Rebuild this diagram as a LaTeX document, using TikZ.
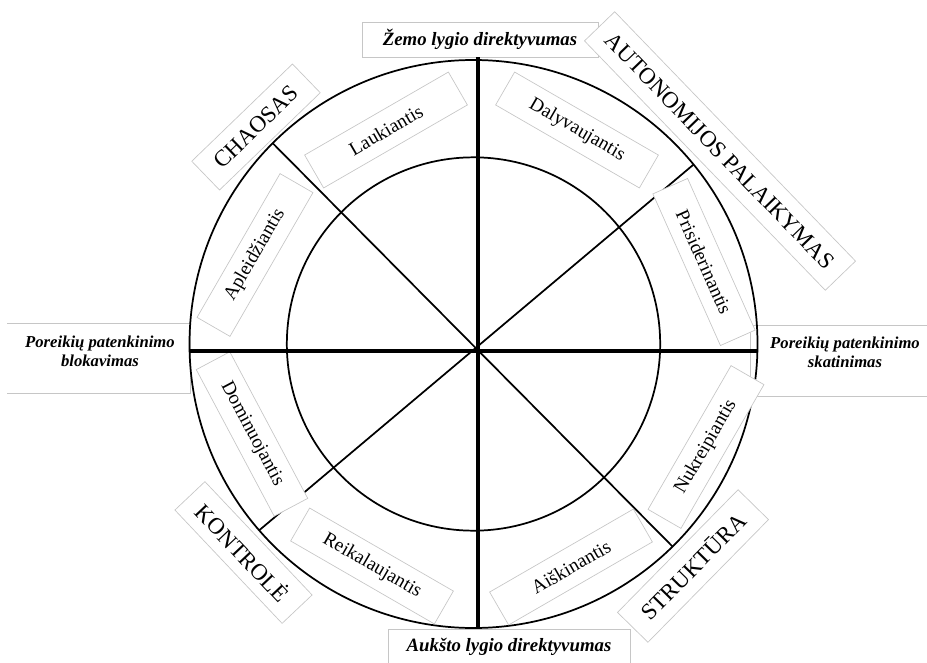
\documentclass[tikz,border=0pt]{standalone}
\usepackage{fontspec}
\setmainfont{Liberation Serif}
\begin{document}
\begin{tikzpicture}[x=0.75pt,y=-0.75pt,
  pole/.style={line width=3pt},
  spoke/.style={line width=1.3pt},
  ring/.style={line width=1.3pt},
  edge/.style={draw=gray!45, line width=0.5pt},
  axislabel/.style={edge, fill=white, inner sep=0pt, font=\fontsize{14.1}{17}\selectfont\bfseries\itshape},
  sidelabel/.style={font=\fontsize{12.5}{14.3}\selectfont\bfseries\itshape, align=center},
  stylebox/.style={edge, fill=white, minimum width=124.5pt, minimum height=28.5pt, inner sep=0pt, font=\fontsize{14.5}{17}\selectfont},
  catbox/.style={edge, fill=white, inner sep=0pt, font=\fontsize{17.3}{20}\selectfont}]

\useasboundingbox (0,0) rectangle (927,663);

% side boxes
\draw[edge] (7,323) -- (190,323) -- (190,393) -- (7,393);
\draw[edge] (927,325) -- (750,325) -- (750,396) -- (927,396);
\node[sidelabel] (block) at (100,351) {Poreikių patenkinimo\\blokavimas};
\node[sidelabel] (boost) at (845,352) {Poreikių patenkinimo\\skatinimas};

% top and bottom
\node[axislabel, minimum width=177pt, minimum height=26.25pt] (low) at (480,39.5) {Žemo lygio direktyvumas};
\node[axislabel, minimum width=181.5pt, minimum height=27pt] (high) at (509,647) {Aukšto lygio direktyvumas};

% category boxes
\node[catbox, rotate=-46, minimum width=260pt, minimum height=31.5pt] (auto) at (720,151) {AUTONOMIJOS PALAIKYMAS};
\node[catbox, rotate=44, minimum width=105pt, minimum height=30pt] (chaos) at (256,127) {CHAOSAS};
\node[catbox, rotate=-46.6, minimum width=117pt, minimum height=31pt] (kont) at (243.5,552.5) {KONTROLĖ};
\node[catbox, rotate=45.5, minimum width=129pt, minimum height=32pt] (stru) at (693,566) {STRUKTŪRA};

% circles
\coordinate (c) at (473.5,344);
\draw[ring] (c) circle[radius=213pt];
\draw[ring] (c) circle[radius=140pt];

% spokes
\coordinate (ul) at ([shift={(135:213pt)}]c);
\coordinate (lr) at ([shift={(-45.5:213pt)}]c);
\coordinate (ur) at ([shift={(39.2:213pt)}]c);
\coordinate (ll) at ([shift={(221:213pt)}]c);
\draw[spoke] (ul) -- (lr);
\draw[spoke] (ur) -- (ll);

% styles
\node[stylebox, rotate=30] (lauk) at (386,130) {Laukiantis};
\node[stylebox, rotate=-30] (daly) at (577,130) {Dalyvaujantis};
\node[stylebox, rotate=60] (aple) at (255,255) {Apleidžiantis};
\node[stylebox, rotate=-66] (pris) at (704,262) {Prisiderinantis};
\node[stylebox, rotate=-62] (domi) at (252,434) {Dominuojantis};
\node[stylebox, rotate=60] (nukr) at (706,447) {Nukreipiantis};
\node[stylebox, rotate=-30] (reik) at (372,566) {Reikalaujantis};
\node[stylebox, rotate=30] (aisk) at (571,567) {Aiškinantis};

% axes
\coordinate (axis) at (478,351);
\coordinate (W) at (189,351);
\coordinate (E) at (758,351);
\draw[pole] (low.south -| axis) -- (high.north -| axis);
\draw[pole] (W) -- (E);
\end{tikzpicture}
\end{document}
